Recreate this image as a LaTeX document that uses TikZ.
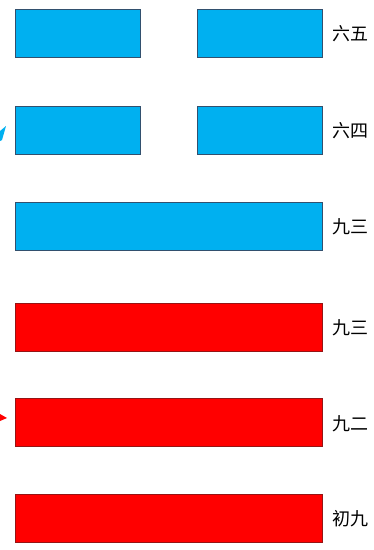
\documentclass[tikz,border=0pt]{standalone}
\usepackage{fontspec}
\newfontfamily\cjk{Noto Sans CJK SC}
\usepackage{tikz}

\definecolor{yinblue}{RGB}{0,176,240}
\definecolor{yinedge}{RGB}{50,80,110}
\definecolor{yangred}{RGB}{255,0,0}
\definecolor{yangedge}{RGB}{150,20,20}

\begin{document}
\begin{tikzpicture}[x=1pt, y=-1pt,
  bar/.style={draw, line width=0.8pt, inner sep=0pt, minimum height=48pt},
  full/.style={bar, minimum width=307pt},
  half/.style={bar, minimum width=125pt},
  blue/.style={fill=yinblue, draw=yinedge},
  red/.style={fill=yangred, draw=yangedge},
  lbl/.style={anchor=west, inner sep=0pt, font=\cjk\fontsize{18}{18}\selectfont}]
  \useasboundingbox (0,0) rectangle (374,550);

  \node[half, blue] (l6a) at (77.5,33)  {};
  \node[half, blue] (l6b) at (259.5,33) {};
  \node[half, blue] (l5a) at (77.5,130)  {};
  \node[half, blue] (l5b) at (259.5,130) {};
  \node[full, blue] (l4) at (168.5,226) {};
  \node[full, red]  (l3) at (168.5,327) {};
  \node[full, red]  (l2) at (168.5,422.5) {};
  \node[full, red]  (l1) at (168.5,518) {};

  \node[lbl] (t6) at (332,34)    {六五};
  \node[lbl] (t5) at (332,131)   {六四};
  \node[lbl] (t4) at (332,227)   {九三};
  \node[lbl] (t3) at (332,328)   {九三};
  \node[lbl] (t2) at (332,423.5) {九二};
  \node[lbl] (t1) at (332,519)   {初九};

  % arrow heads cut off at the left edge
  \fill[yinblue] (0,131) -- (6,126) -- (2,140) -- (0,141) -- cycle;
  \fill[yangred] (0,414) -- (7,418) -- (0,421) -- cycle;
\end{tikzpicture}
\end{document}
